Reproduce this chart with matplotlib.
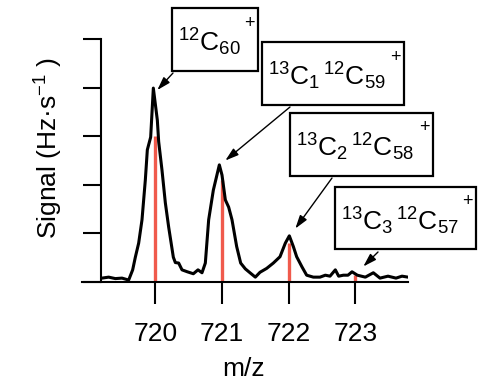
import matplotlib
matplotlib.use("Agg")
import matplotlib.pyplot as plt
from matplotlib.patches import Rectangle

plt.rcParams['font.family'] = ['Liberation Sans', 'DejaVu Sans']
plt.rcParams['mathtext.fontset'] = 'custom'
plt.rcParams['mathtext.rm'] = 'Liberation Sans'
plt.rcParams['mathtext.it'] = 'Liberation Sans:italic'
plt.rcParams['mathtext.bf'] = 'Liberation Sans:bold'

# measured spectrum (m/z, signal in tick units)
mz = [719.20, 719.30, 719.40, 719.50, 719.60, 719.66, 719.70, 719.75,
      719.80, 719.85, 719.88, 719.93, 719.97, 720.03, 720.05, 720.10,
      720.15, 720.20, 720.27, 720.30, 720.35, 720.40, 720.48, 720.57,
      720.64, 720.70, 720.75, 720.80, 720.87, 720.96, 721.00, 721.05,
      721.10, 721.15, 721.22, 721.28, 721.35, 721.42, 721.50, 721.57,
      721.67, 721.77, 721.87, 721.95, 722.01, 722.07, 722.12, 722.20,
      722.27, 722.37, 722.47, 722.55, 722.62, 722.70, 722.75, 722.82,
      722.89, 722.95, 723.03, 723.15, 723.27, 723.37, 723.49, 723.61,
      723.70, 723.79]
signal = [0.08, 0.10, 0.07, 0.08, 0.04, 0.25, 0.51, 0.80,
          1.28, 2.10, 2.72, 2.98, 3.99, 3.33, 2.89, 2.30,
          1.63, 1.13, 0.51, 0.40, 0.39, 0.25, 0.21, 0.17,
          0.25, 0.19, 0.39, 1.28, 1.89, 2.41, 2.20, 1.69,
          1.54, 1.28, 0.73, 0.39, 0.27, 0.19, 0.10, 0.20,
          0.28, 0.39, 0.52, 0.80, 0.95, 0.73, 0.52, 0.31,
          0.14, 0.10, 0.10, 0.14, 0.12, 0.25, 0.12, 0.14,
          0.14, 0.21, 0.14, 0.10, 0.19, 0.08, 0.12, 0.08,
          0.12, 0.10]

# calculated isotope pattern
iso_mz = [720, 721, 722, 723]
iso_height = [3.0, 2.1, 0.8, 0.15]

xticks = [720, 721, 722, 723]
labels = [(r'$^{12}$C$_{60}$', 720.03, 3.95),
          (r'$^{13}$C$_{1}$$\,^{12}$C$_{59}$', 721.05, 2.5),
          (r'$^{13}$C$_{2}$$\,^{12}$C$_{58}$', 722.1, 1.1),
          (r'$^{13}$C$_{3}$$\,^{12}$C$_{57}$', 723.12, 0.32)]
# boxes in pixels (left, top, right, bottom), arrow tails in pixels
boxes = [(172, 8, 258, 71), (262, 42, 404, 105), (290, 113, 433, 176), (335, 187, 476, 249)]
tails = [(173, 73), (290, 107), (332, 178), (378, 252)]

W, H = 481, 384
fig = plt.figure(figsize=(W / 100, H / 100), dpi=100)
ax = fig.add_axes([82 / W, (H - 282) / H, (408 - 82) / W, 243 / H])

ax.vlines(iso_mz, 0, iso_height, color='#f05a4c', lw=2.4, zorder=2)
ax.plot(mz, signal, color='black', lw=2.2, zorder=3)

ax.set_xlim(718.9, 723.79)
ax.set_ylim(0, 5)
for s in ['top', 'right']:
    ax.spines[s].set_visible(False)
ax.spines['left'].set_position(('data', 719.18))
ax.spines['left'].set_bounds(0, 5)
ax.spines['left'].set_linewidth(1.5)
ax.spines['bottom'].set_linewidth(1.5)

ax.set_yticks(range(6))
ax.set_yticklabels([])
ax.tick_params(axis='y', length=13, width=1.5, direction='out')
ax.set_xticks(xticks)
ax.set_xticklabels([str(t) for t in xticks])
ax.tick_params(axis='x', length=16, width=1.5, direction='out', labelsize=19, pad=13)
ax.patch.set_visible(False)

fig.text(244 / W, 1 - 369 / H, 'm/z', ha='center', va='center', fontsize=19)
fig.text(49 / W, 1 - 148 / H, 'Signal (Hz·s$^{-1}$ )', ha='center', va='center',
         rotation=90, fontsize=19)

for (txt, px, py), (l, t, r, b), (tx, ty) in zip(labels, boxes, tails):
    fig.patches.append(Rectangle((l / W, 1 - b / H), (r - l) / W, (b - t) / H,
                                 transform=fig.transFigure, fill=False,
                                 ec='black', lw=1.6))
    fig.text((l + 6) / W, 1 - (t + b) / 2 / H - 3 / H, txt, ha='left', va='center',
             fontsize=19)
    fig.text((r - 9) / W, 1 - (t + 15) / H, '+', ha='center', va='center', fontsize=13)
    ax.annotate('', xy=(px, py), xycoords='data',
                xytext=(tx, H - ty), textcoords='figure pixels',
                arrowprops=dict(arrowstyle='-|>,head_length=0.8,head_width=0.25',
                                color='black', lw=1.0, shrinkA=0, shrinkB=0))

fig.savefig('out.png', dpi=100)
